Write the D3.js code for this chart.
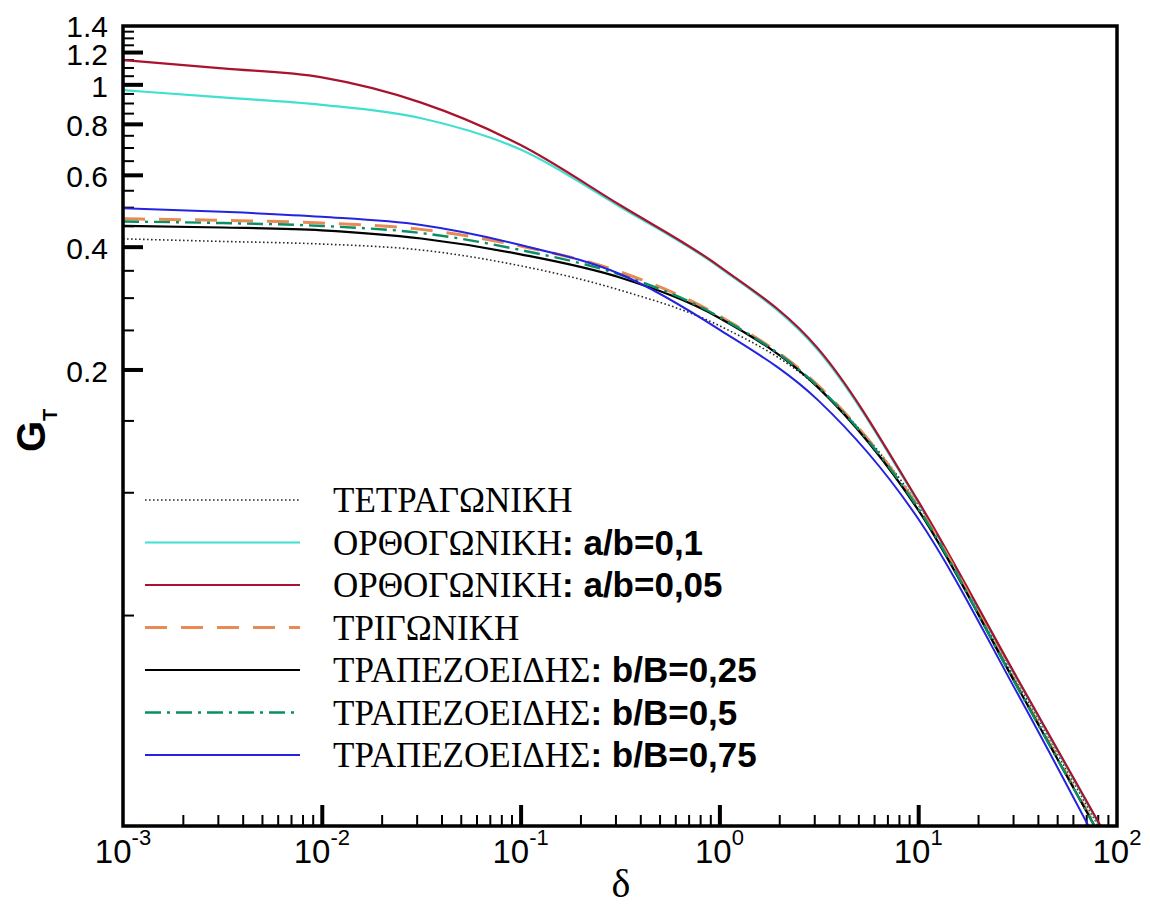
<!DOCTYPE html>
<html>
<head>
<meta charset="utf-8">
<script src="https://cdn.jsdelivr.net/npm/d3@7"></script>
<style>
  body { margin: 0; background: #fff; }
  svg { display: block; }
</style>
</head>
<body>
<script>
var width = 1150,
    height = 910;

// delta grid (half decades) and G_T for each curve
var deltas   = [0.001, 0.00316, 0.01, 0.0316, 0.1, 0.316, 1, 3.16, 10, 31.6, 100];
var square   = [0.418, 0.412, 0.406, 0.3925, 0.359, 0.313, 0.256, 0.180, 0.0931, 0.0341, 0.0126];
var rect01   = [0.968, 0.929, 0.891, 0.826, 0.692, 0.501, 0.356, 0.222, 0.0944, 0.0347, 0.0128];
var rect005  = [1.147, 1.094, 1.040, 0.902, 0.710, 0.506, 0.358, 0.224, 0.0951, 0.0349, 0.0129];
var triangle = [0.468, 0.464, 0.457, 0.441, 0.4015, 0.347, 0.2705, 0.182, 0.092, 0.0335, 0.0122];
var trap025  = [0.4496, 0.4457, 0.4387, 0.4188, 0.383, 0.336, 0.2675, 0.180, 0.0905, 0.0333, 0.0121];
var trap05   = [0.461, 0.457, 0.4496, 0.432, 0.3925, 0.3416, 0.269, 0.181, 0.0913, 0.0332, 0.0121];
var trap075  = [0.4967, 0.4869, 0.4734, 0.4519, 0.4037, 0.3428, 0.2505, 0.1675, 0.0861, 0.0321, 0.0112];

var seriesNames = ["ΤΕΤΡΑΓΩΝΙΚΗ", "ΟΡΘΟΓΩΝΙΚΗ", "ΟΡΘΟΓΩΝΙΚΗ", "ΤΡΙΓΩΝΙΚΗ", "ΤΡΑΠΕΖΟΕΙΔΗΣ", "ΤΡΑΠΕΖΟΕΙΔΗΣ", "ΤΡΑΠΕΖΟΕΙΔΗΣ"];
var seriesParams = ["", ": a/b=0,1", ": a/b=0,05", "", ": b/B=0,25", ": b/B=0,5", ": b/B=0,75"];

var xMajor = [1e-3, 1e-2, 1e-1, 1e0, 1e1, 1e2],
    xExp = ["-3", "-2", "-1", "0", "1", "2"];
var yMajor = [0.2, 0.4, 0.6, 0.8, 1, 1.2, 1.4],
    yLabels = ["0.2", "0.4", "0.6", "0.8", "1", "1.2", "1.4"];

var styles = [
  {color: "#2a2a2a", w: 1.6, dash: "1.6 2.4"},
  {color: "#3fe0d0", w: 2.2, dash: null},
  {color: "#a8142e", w: 2.2, dash: null},
  {color: "#e88a55", w: 3, dash: "22 14"},
  {color: "#000000", w: 2.2, dash: null},
  {color: "#0a8f64", w: 2.4, dash: "16 6 3 6"},
  {color: "#2424e0", w: 2, dash: null}
];
var allSeries = [square, rect01, rect005, triangle, trap025, trap05, trap075];

var plotLeft = 123, plotRight = 1117, plotTop = 26, plotBottom = 826;

var x = d3.scaleLog().domain([1e-3, 1e2]).range([plotLeft, plotRight]),
    y = d3.scaleLog().domain([0.0152, 1.39]).range([plotBottom, plotTop]);

var svg = d3.select("body").append("svg")
    .attr("width", width)
    .attr("height", height);

svg.append("clipPath").attr("id", "plot")
  .append("rect")
    .attr("x", plotLeft).attr("y", plotTop)
    .attr("width", plotRight - plotLeft).attr("height", plotBottom - plotTop);

// minor ticks
var xMinor = [];
for (var e = -3; e < 2; e++) for (var m = 2; m <= 9; m++) xMinor.push(m * Math.pow(10, e));
var yMinor = [];
for (var k = 1; k <= 27; k++) {
  var v = +(k * 0.05).toFixed(2);
  if (yMajor.indexOf(v) < 0) yMinor.push(v);
}

svg.append("g")
    .attr("transform", "translate(0," + plotBottom + ")")
    .call(d3.axisBottom(x).tickValues(xMinor).tickSizeInner(-11).tickSizeOuter(0).tickFormat(""))
    .call(function(g) { g.select(".domain").remove(); g.selectAll("line").attr("stroke-width", 2); });

svg.append("g")
    .attr("transform", "translate(0," + plotBottom + ")")
    .call(d3.axisBottom(x).tickValues(xMajor.slice(1, 5)).tickSizeInner(-21).tickSizeOuter(0).tickFormat(""))
    .call(function(g) { g.select(".domain").remove(); g.selectAll("line").attr("stroke-width", 4); });

svg.append("g")
    .attr("transform", "translate(" + plotLeft + ",0)")
    .call(d3.axisLeft(y).tickValues(yMinor).tickSizeInner(-11).tickSizeOuter(0).tickFormat(""))
    .call(function(g) { g.select(".domain").remove(); g.selectAll("line").attr("stroke-width", 2); });

svg.append("g")
    .attr("transform", "translate(" + plotLeft + ",0)")
    .call(d3.axisLeft(y).tickValues(yMajor.slice(0, 6)).tickSizeInner(-20).tickSizeOuter(0).tickFormat(""))
    .call(function(g) { g.select(".domain").remove(); g.selectAll("line").attr("stroke-width", 4); });

// curves
var line = d3.line()
    .x(function(d, i) { return x(deltas[i]); })
    .y(function(d) { return y(d); })
    .curve(d3.curveMonotoneX);

var curves = svg.append("g").attr("clip-path", "url(#plot)");
allSeries.forEach(function(s, i) {
  curves.append("path")
      .datum(s)
      .attr("d", line)
      .attr("fill", "none")
      .attr("stroke", styles[i].color)
      .attr("stroke-width", styles[i].w)
      .attr("stroke-dasharray", styles[i].dash);
});

// frame
svg.append("rect")
    .attr("x", plotLeft).attr("y", plotTop)
    .attr("width", plotRight - plotLeft).attr("height", plotBottom - plotTop)
    .attr("fill", "none")
    .attr("stroke", "#000")
    .attr("stroke-width", 3.5);

// tick labels
svg.selectAll(".ylab")
  .data(yMajor)
  .enter().append("text")
    .attr("x", 108)
    .attr("y", function(d) { return y(d); })
    .attr("dy", "0.42em")
    .attr("text-anchor", "end")
    .attr("font-family", "Liberation Sans, Arial, sans-serif")
    .attr("font-size", 30)
    .text(function(d, i) { return yLabels[i]; });

var xl = svg.selectAll(".xlab")
  .data(xMajor)
  .enter().append("text")
    .attr("x", function(d) { return x(d); })
    .attr("y", 863)
    .attr("text-anchor", "middle")
    .attr("font-family", "Liberation Sans, Arial, sans-serif")
    .attr("font-size", 33);
xl.append("tspan").text("10");
xl.append("tspan")
    .attr("font-size", 22)
    .attr("dy", -18)
    .text(function(d, i) { return xExp[i]; });

// axis titles
svg.append("text")
    .attr("x", 621)
    .attr("y", 897)
    .attr("text-anchor", "middle")
    .attr("font-family", "Liberation Serif, Times New Roman, serif")
    .attr("font-size", 40)
    .text("δ");

var gt = svg.append("text")
    .attr("transform", "translate(45,452) rotate(-90)")
    .attr("font-family", "Liberation Sans, Arial, sans-serif")
    .attr("font-weight", "bold")
    .attr("font-size", 40);
gt.append("tspan").text("G");
gt.append("tspan").attr("font-size", 20).attr("dy", 12).text("T");

// legend
var legend = svg.append("g");
styles.forEach(function(s, i) {
  var ly = 500 + i * 42.5;
  legend.append("line")
      .attr("x1", 145).attr("x2", 300)
      .attr("y1", ly).attr("y2", ly)
      .attr("stroke", s.color)
      .attr("stroke-width", s.w)
      .attr("stroke-dasharray", s.dash);
  var t = legend.append("text")
      .attr("x", 333)
      .attr("y", ly + 12);
  t.append("tspan")
      .attr("font-family", "Liberation Serif, Times New Roman, serif")
      .attr("font-size", 35)
      .text(seriesNames[i]);
  if (seriesParams[i]) {
    t.append("tspan")
        .attr("font-family", "Liberation Sans, Arial, sans-serif")
        .attr("font-weight", "bold")
        .attr("font-size", 35)
        .text(seriesParams[i]);
  }
});
</script>
</body>
</html>
